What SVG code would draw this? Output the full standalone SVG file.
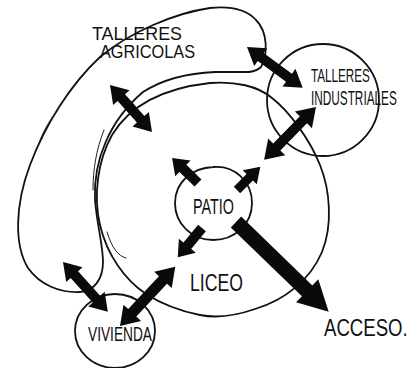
<svg xmlns="http://www.w3.org/2000/svg" width="416" height="368" viewBox="0 0 416 368">
<style>
.ln{fill:none;stroke:#111;stroke-width:1.8;stroke-linejoin:round;stroke-linecap:round}
.thin{fill:none;stroke:#222;stroke-width:1;stroke-linecap:round}
.ar{fill:#0a0a0a}
.t{font-family:"Liberation Sans",Arial,sans-serif;fill:#111;font-weight:normal}
</style>
<rect width="416" height="368" fill="#fff"/>
<g id="talleres-agricolas">
<path class="ln" d="M261,67 C268,55 268,32 256,20 C246,9 230,6 210,8 C175,13 130,32 100,57 C70,85 45,125 30,165 C15,205 14,245 28,268 C40,285 60,293 80,292 C95,291 103,278 103,262 C103,245 97,225 95,200 C93,160 110,120 143,92 C165,78 190,73 215,72 L249,72 C255,71 259,69 261,67 Z"/>
<path class="thin" d="M58,110 C48,122 42,134 38,146"/>
<path class="thin" d="M104,130 C96,150 93,170 93,190"/>
<path class="thin" d="M107,232 C112,248 118,256 126,258"/>
<text class="t" x="92" y="40" font-size="18" textLength="90" lengthAdjust="spacingAndGlyphs">TALLERES</text>
<text class="t" x="100" y="58" font-size="18" textLength="95" lengthAdjust="spacingAndGlyphs">AGRICOLAS</text>
</g>
<g id="liceo">
<path class="ln" d="M210,83 C235,81 258,86 272,98 C290,112 310,140 320,165 C330,190 333,225 322,252 C310,280 285,300 255,309 C235,316 215,318 200,315 C180,311 160,303 146,294 C125,280 107,255 100,225 C93,195 98,160 112,135 C130,105 165,88 210,83 Z"/>
<text class="t" x="190" y="291" font-size="24" textLength="53" lengthAdjust="spacingAndGlyphs">LICEO</text>
</g>
<g id="talleres-industriales">
<circle class="ln" cx="323" cy="100" r="56"/>
<text class="t" transform="translate(311,82) scale(1,1.6)" font-size="11.7">TALLERES</text>
<text class="t" transform="translate(311,105) scale(1,1.65)" font-size="11.8">INDUSTRIALES</text>
</g>
<g id="patio">
<path class="ln" d="M213,167 C235,165 252,182 252,203 C252,224 235,240 213,240 C192,240 175,224 175,203 C175,182 192,168 213,167 Z"/>
<text class="t" x="193" y="214" font-size="22" textLength="41" lengthAdjust="spacingAndGlyphs">PATIO</text>
</g>
<g id="vivienda">
<ellipse class="ln" cx="115" cy="331" rx="40" ry="37"/>
<text class="t" x="88" y="341" font-size="21" textLength="64" lengthAdjust="spacingAndGlyphs">VIVIENDA</text>
</g>
<g id="acceso">
<text class="t" transform="translate(324,336) scale(1,1.3)" font-size="18.6">ACCESO.</text>
</g>
<g id="connectors" class="ar">
<path transform="translate(247,47) rotate(36.2)" d="M0,0 L17,-11 L17,-5 L52,-5 L52,-11 L69,0 L52,11 L52,5 L17,5 L17,11 Z"/>
<path transform="translate(110,85) rotate(48.2)" d="M0,0 L17,-11 L17,-5 L46,-5 L46,-11 L63,0 L46,11 L46,5 L17,5 L17,11 Z"/>
<path transform="translate(316,107) rotate(134.5)" d="M0,0 L18,-12 L18,-5 L56,-5 L56,-12 L74,0 L56,12 L56,5 L18,5 L18,12 Z"/>
<path transform="translate(63,262) rotate(48)" d="M0,0 L17,-11 L17,-5 L50,-5 L50,-11 L67,0 L50,11 L50,5 L17,5 L17,11 Z"/>
<path transform="translate(120,326) rotate(-47)" d="M0,0 L18,-12 L18,-5.5 L63,-5.5 L63,-12 L81,0 L63,12 L63,5.5 L18,5.5 L18,12 Z"/>
<path transform="translate(198,183) rotate(-136)" d="M0,-5 L21,-5 L21,-11 L36,0 L21,11 L21,5 L0,5 Z"/>
<path transform="translate(237,190) rotate(-45)" d="M0,-4.5 L18,-4.5 L18,-10 L33,0 L18,10 L18,4.5 L0,4.5 Z"/>
<path transform="translate(202,228) rotate(129.6)" d="M0,-5 L23,-5 L23,-11 L38,0 L23,11 L23,5 L0,5 Z"/>
<path transform="translate(236,222) rotate(44.06)" d="M0,-7.5 L99,-7.5 L99,-16 L129,0 L99,16 L99,7.5 L0,7.5 Z"/>
</g>
</svg>
